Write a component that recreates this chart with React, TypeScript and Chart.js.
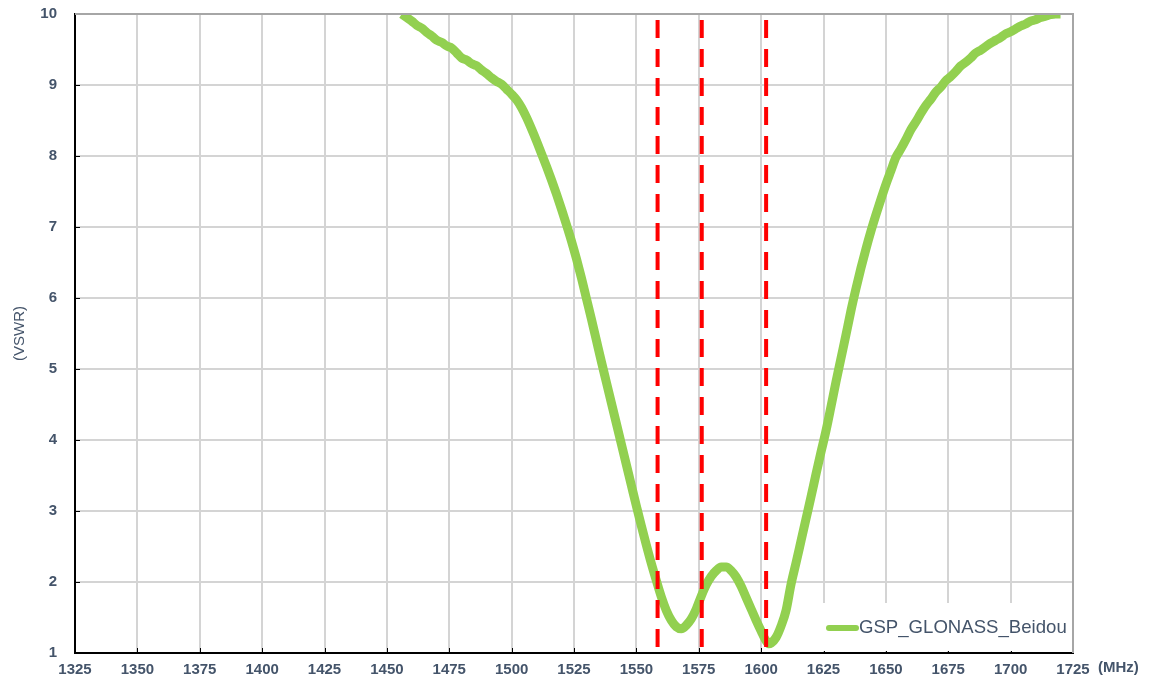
import React, { useEffect, useRef } from "react";
import { Chart, registerables } from "chart.js";

Chart.register(...registerables);

// ---- data ----
const seriesName = "GSP_GLONASS_Beidou";
const xUnit = "(MHz)";
const yTitle = "(VSWR)";
const xMin = 1325;
const xMax = 1725;
const xStep = 25;
const yMin = 1;
const yMax = 10;
const yStep = 1;

const freqs = [
  1456, 1458, 1460, 1462, 1464, 1466, 1468, 1470, 1472, 1474, 1476, 1478, 1480, 1482, 1484, 1486, 1488, 1490,
  1492, 1494, 1496, 1498, 1500, 1502, 1504, 1506, 1508, 1510, 1512, 1514, 1516, 1518, 1520, 1522, 1524, 1526,
  1528, 1530, 1532, 1534, 1536, 1538, 1540, 1542, 1544, 1546, 1548, 1550, 1552, 1554, 1556, 1558, 1560, 1562,
  1564, 1566, 1568, 1570, 1572, 1574, 1576, 1578, 1580, 1582, 1584, 1586, 1588, 1590, 1592, 1594, 1596, 1598,
  1600, 1602, 1603, 1604, 1606, 1608, 1610, 1612, 1614, 1616, 1618, 1620, 1622, 1624, 1626, 1628, 1630, 1632,
  1634, 1636, 1638, 1640, 1642, 1644, 1646, 1648, 1650, 1652, 1654, 1656, 1658, 1660, 1662, 1664, 1666, 1668,
  1670, 1672, 1674, 1676, 1678, 1680, 1682, 1684, 1686, 1688, 1690, 1692, 1694, 1696, 1698, 1700, 1702, 1704,
  1706, 1708, 1710, 1712, 1714, 1716, 1718, 1720,
];

const vswr = [
  10.0, 9.95, 9.9, 9.84, 9.8, 9.74, 9.69, 9.63, 9.6, 9.55, 9.52, 9.45, 9.38, 9.35, 9.3, 9.27, 9.21, 9.16,
  9.1, 9.05, 9.01, 8.94, 8.87, 8.79, 8.68, 8.54, 8.38, 8.21, 8.03, 7.85, 7.66, 7.46, 7.25, 7.03, 6.8, 6.55,
  6.28, 5.99, 5.7, 5.4, 5.1, 4.81, 4.52, 4.23, 3.94, 3.65, 3.36, 3.07, 2.79, 2.52, 2.26, 2.02, 1.79, 1.6,
  1.46, 1.37, 1.34, 1.39, 1.48, 1.62, 1.8, 1.96, 2.08, 2.16, 2.21, 2.21, 2.16, 2.07, 1.94, 1.78, 1.62, 1.46,
  1.31, 1.17, 1.13, 1.14, 1.22, 1.38, 1.6, 1.97, 2.27, 2.58, 2.89, 3.2, 3.52, 3.83, 4.13, 4.47, 4.82, 5.15,
  5.48, 5.82, 6.13, 6.42, 6.69, 6.94, 7.17, 7.39, 7.6, 7.79, 7.98, 8.1, 8.23, 8.37, 8.48, 8.6, 8.71, 8.8,
  8.9, 8.97, 9.06, 9.12, 9.19, 9.27, 9.32, 9.38, 9.45, 9.49, 9.54, 9.59, 9.63, 9.67, 9.72, 9.75, 9.79, 9.83,
  9.86, 9.9, 9.92, 9.95, 9.97, 9.99, 10.0, 10.0,
];

// band marker frequencies (red dashed lines)
const markerFreqs = [1558.5, 1576.2, 1602];

// ---- styles ----
const TEXT = "#44546A";
const GREEN = "#92D050";
const RED = "#FF0000";
const FONT = '"Liberation Sans", Arial, sans-serif';

const decorPlugin = {
  id: "decor",
  afterDraw(chart: any) {
    const { ctx, chartArea: a, scales } = chart;
    const x = scales.x;
    const y = scales.y;
    ctx.save();
    // top / right frame in gray
    ctx.strokeStyle = "#a6a6a6";
    ctx.lineWidth = 2;
    ctx.beginPath();
    ctx.moveTo(a.left, a.top);
    ctx.lineTo(a.right, a.top);
    ctx.lineTo(a.right, a.bottom);
    ctx.stroke();

    // inner tick marks
    ctx.strokeStyle = "#000";
    ctx.lineWidth = 1;
    ctx.beginPath();
    for (let v = xMin + xStep; v < xMax; v += xStep) {
      const px = Math.round(x.getPixelForValue(v)) + 0.5;
      ctx.moveTo(px, a.bottom);
      ctx.lineTo(px, a.bottom - 5);
    }
    for (let v = yMin + yStep; v < yMax; v += yStep) {
      const py = Math.round(y.getPixelForValue(v)) + 0.5;
      ctx.moveTo(a.left, py);
      ctx.lineTo(a.left + 5, py);
    }
    ctx.stroke();

    // x unit label
    ctx.fillStyle = TEXT;
    ctx.font = `bold 15px ${FONT}`;
    ctx.textAlign = "left";
    ctx.textBaseline = "middle";
    ctx.fillText(xUnit, x.getPixelForValue(xMax) + 25, 668);

    // legend inside plot
    const bx = 815;
    const by = 603;
    ctx.fillStyle = "#fff";
    ctx.fillRect(bx, by, a.right - 1 - bx, a.bottom - 2 - by);
    ctx.strokeStyle = GREEN;
    ctx.lineWidth = 6;
    ctx.lineCap = "round";
    ctx.beginPath();
    ctx.moveTo(829, 628);
    ctx.lineTo(856, 628);
    ctx.stroke();
    ctx.fillStyle = TEXT;
    ctx.font = `18.6px ${FONT}`;
    ctx.textAlign = "left";
    ctx.textBaseline = "middle";
    ctx.fillText(seriesName, 859, 628);
    ctx.restore();
  },
};

export default function App() {
  const ref = useRef<HTMLCanvasElement | null>(null);

  useEffect(() => {
    if (!ref.current) return;
    const curve = freqs.map((f, i) => ({ x: f, y: vswr[i] }));
    const markerSets = markerFreqs.map((f) => ({
      label: "marker",
      data: [
        { x: f, y: yMax },
        { x: f, y: yMin },
      ],
      borderColor: RED,
      borderWidth: 4,
      borderDash: [18, 11],
      borderDashOffset: -6,
      pointRadius: 0,
      fill: false,
      clip: 0,
      order: 1,
    }));

    const chart = new Chart(ref.current, {
      type: "line",
      data: {
        datasets: [
          ...markerSets,
          {
            label: seriesName,
            data: curve,
            borderColor: GREEN,
            backgroundColor: GREEN,
            borderWidth: 9,
            pointRadius: 0,
            cubicInterpolationMode: "monotone",
            fill: false,
            clip: 0,
            borderJoinStyle: "round",
            order: 2,
          },
        ],
      } as any,
      options: {
        animation: false,
        responsive: false,
        maintainAspectRatio: false,
        layout: { padding: { top: 14, right: 81, left: 0, bottom: 0 } },
        plugins: {
          legend: { display: false },
          tooltip: { enabled: false },
        },
        scales: {
          x: {
            type: "linear",
            min: xMin,
            max: xMax,
            afterFit: (s: any) => {
              s.height = 31;
              s.paddingLeft = 0;
              s.paddingRight = 0;
            },
            ticks: {
              stepSize: xStep,
              autoSkip: false,
              maxRotation: 0,
              padding: 8,
              color: TEXT,
              font: { family: FONT, size: 15, weight: "bold" },
              callback: (v: any) => String(v),
            },
            grid: { color: "#d4d4d4", lineWidth: 2, drawTicks: false },
            border: { color: "#000", width: 2 },
          },
          y: {
            type: "linear",
            min: yMin,
            max: yMax,
            afterFit: (s: any) => {
              s.width = 75;
              s.paddingTop = 0;
              s.paddingBottom = 0;
            },
            ticks: {
              stepSize: yStep,
              padding: 18,
              color: TEXT,
              font: { family: FONT, size: 15, weight: "bold" },
              callback: (v: any) => String(v),
            },
            grid: { color: "#d4d4d4", lineWidth: 2, drawTicks: false },
            border: { color: "#000", width: 2 },
            title: {
              display: true,
              text: yTitle,
              color: TEXT,
              font: { family: FONT, size: 15 },
              padding: { top: 11, bottom: 0 },
            },
          },
        },
      } as any,
      plugins: [decorPlugin],
    });
    return () => chart.destroy();
  }, []);

  return (
    <div style={{ position: "fixed", left: 0, top: 0, width: 1154, height: 684, background: "#fff" }}>
      <canvas ref={ref} width={1154} height={684} style={{ display: "block" }} />
    </div>
  );
}
